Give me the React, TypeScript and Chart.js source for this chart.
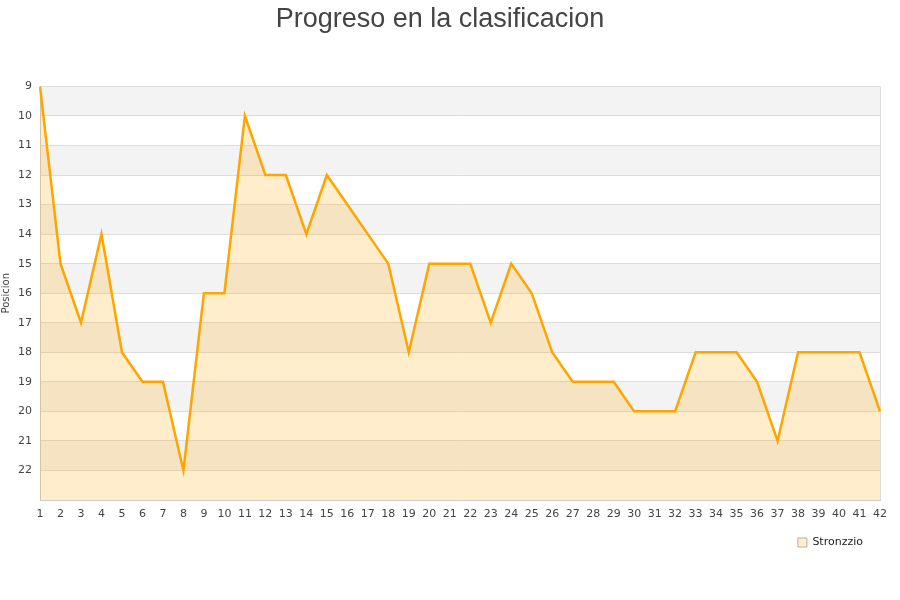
import React, { useEffect, useRef } from "react";
import { Chart, registerables } from "chart.js";

Chart.register(...registerables);

const jornadas: string[] = Array.from({ length: 42 }, (_, i) => String(i + 1));
const posiciones: number[] = [
  9, 15, 17, 14, 18, 19, 19, 22, 16, 16, 10, 12, 12, 14, 12, 13, 14, 15, 18, 15, 15,
  15, 17, 15, 16, 18, 19, 19, 19, 20, 20, 20, 18, 18, 18, 19, 21, 18, 18, 18, 18, 20,
];
const teamName = "Stronzzio";
const titleText = "Progreso en la clasificacion";
const yTitle = "Posicion";
const yMin = 9;
const yMax = 23;

const bandsPlugin = {
  id: "bands",
  beforeDraw(chart: any) {
    const { ctx, chartArea, scales } = chart;
    const y = scales.y;
    ctx.save();
    for (let v = yMin; v < yMax; v++) {
      if ((v - yMin) % 2 === 0) {
        const t = y.getPixelForValue(v);
        const b = y.getPixelForValue(v + 1);
        ctx.fillStyle = "#f3f3f3";
        ctx.fillRect(chartArea.left, t, chartArea.right - chartArea.left, b - t);
      }
    }
    ctx.strokeStyle = "#dddddd";
    ctx.lineWidth = 1;
    ctx.beginPath();
    ctx.moveTo(Math.round(chartArea.right) + 0.5, chartArea.top);
    ctx.lineTo(Math.round(chartArea.right) + 0.5, chartArea.bottom);
    ctx.stroke();
    ctx.restore();
  },
};

export default function App() {
  const ref = useRef<HTMLCanvasElement>(null);
  useEffect(() => {
    document.body.style.margin = "0";
    const chart = new Chart(ref.current!, {
      type: "line",
      data: {
        labels: jornadas,
        datasets: [
          {
            label: teamName,
            data: posiciones,
            borderColor: "#ffa500",
            backgroundColor: "rgba(255,165,0,0.2)",
            borderWidth: 2.5,
            pointRadius: 0,
            tension: 0,
            fill: { value: yMax },
          },
        ],
      },
      options: {
        animation: false,
        responsive: false,
        layout: { padding: { left: 0, right: 20, top: 0, bottom: 42 } },
        plugins: {
          title: {
            display: true,
            text: titleText,
            color: "#444",
            font: { family: "Liberation Sans", size: 27, weight: "normal" },
            padding: { top: 3, bottom: 51 },
          },
          legend: {
            position: "bottom",
            align: "end",
            labels: {
              boxWidth: 9,
              boxHeight: 9,
              color: "#222",
              font: { family: "DejaVu Sans", size: 11 },
              padding: 17,
              generateLabels: () => [
                {
                  text: teamName,
                  fillStyle: "#ffefd2",
                  strokeStyle: "#b8ab95",
                  lineWidth: 1,
                  fontColor: "#222",
                  datasetIndex: 0,
                  hidden: false,
                },
              ],
            },
          },
          tooltip: { enabled: false },
        },
        scales: {
          x: {
            offset: false,
            grid: { display: false },
            border: { color: "#ccc" },
            ticks: {
              color: "#444",
              font: { family: "DejaVu Sans", size: 11 },
              maxRotation: 0,
              autoSkip: false,
              padding: 0,
            },
            afterFit(s: any) {
              s.height = 20;
            },
          },
          y: {
            reverse: true,
            min: yMin,
            max: yMax,
            grid: { color: "#dddddd", drawTicks: false },
            border: { color: "#ccc" },
            ticks: {
              stepSize: 1,
              color: "#444",
              font: { family: "DejaVu Sans", size: 11 },
              padding: 8,
              callback: (v: any) => (Number(v) === yMax ? "" : String(v)),
            },
            title: {
              display: true,
              text: yTitle,
              color: "#444",
              font: { family: "DejaVu Sans", size: 10 },
              padding: 0,
            },
            afterFit(s: any) {
              s.width = 40;
            },
          },
        },
      },
      plugins: [bandsPlugin],
    });
    return () => chart.destroy();
  }, []);
  return <canvas ref={ref} width={900} height={600} />;
}
